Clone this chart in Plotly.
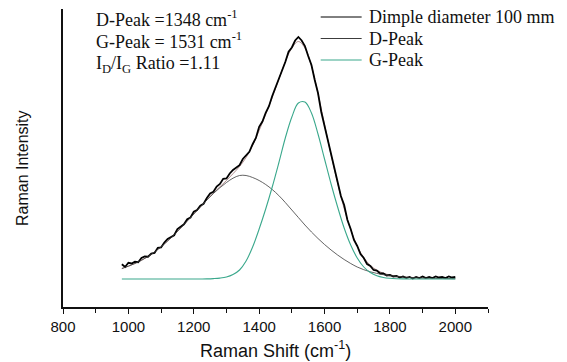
import plotly.graph_objects as go

# ---------------- data ----------------
spec_x = list(range(980, 2001, 10))
spec_y = [14.75, 12, 16.25, 15.5, 17.25, 16.75, 21, 22.5, 22.25, 25.5,
          26, 31.25, 31.5, 36.5, 40, 41.5, 43.75, 50, 52.25, 54.75,
          59.75, 61.5, 67.25, 69, 73.25, 75.25, 81, 85.5, 87.25, 92.5,
          95, 100.25, 100.5, 105.5, 109, 111, 113.75, 120, 123.25, 127.25,
          134.75, 141, 152.25, 157.5, 166.25, 172.75, 183, 191.5, 198.25, 208.5,
          217, 227.25, 231.5, 238.5, 242, 238.5,
          233, 223, 214, 199, 186, 167, 153, 136, 124, 108,
          97, 83, 74, 59, 50, 39, 33, 25, 21, 15,
          13, 9, 8.5, 5.5, 5.5, 3.5, 4, 2.5, 3, 1.5,
          2.5, 1, 2, 0.5, 2, 1, 2.5, 1, 2, 1,
          2.5, 1.5, 2, 1, 2.5, 1.5, 2]

fit_x = list(range(980, 2001, 20))
d_peak = [10.5, 12.8, 15.5, 18.7, 22.5, 27, 32.2, 38, 44.3, 51,
          58, 65, 72, 79, 85.5, 91.3, 96.5, 100.8, 103.5, 103.5,
          101.5, 98.5, 94.5, 89.5, 83.5, 76.5, 69, 61.5, 54, 47,
          40.5, 34.5, 29, 24, 19.5, 15.5, 12, 9.3, 7.2, 5.6,
          4.3, 3.3, 2.6, 2.0, 1.6, 1.2, 1.0, 0.8, 0.6, 0.5,
          0.4, 0.3]
g_peak = [0, 0, 0, 0, 0, 0, 0, 0, 0, 0,
          0, 0, 0.05, 0.15, 0.4, 0.9, 2, 4.5, 9, 18,
          32, 50, 70, 92, 116, 141, 162, 176, 177, 166,
          145, 120, 95, 72, 51, 34, 21, 12, 6.5, 3.2,
          1.5, 0.7, 0.3, 0.1, 0, 0, 0, 0, 0, 0,
          0, 0]
cum_fit = [10.5, 12.8, 15.5, 18.7, 22.5, 27, 32.2, 38, 44.3, 51,
           58, 65, 72, 79.2, 85.9, 92.2, 98.5, 105.3, 112.5, 121.5,
           133.5, 148.5, 164.5, 181.5, 199.5, 217.5, 231, 237.5, 231, 213,
           185.5, 154.5, 124, 96, 70.5, 49.5, 33, 21.3, 13.7, 8.8,
           5.8, 4, 2.9, 2.1, 1.6, 1.2, 1.0, 0.8, 0.6, 0.5,
           0.4, 0.3]

legend_names = ["Dimple diameter 100 mm", "D-Peak", "G-Peak"]
info_lines = ["D-Peak =1348 cm<sup>-1</sup>",
              "G-Peak = 1531 cm<sup>-1</sup>",
              "I<sub>D</sub>/I<sub>G</sub> Ratio =1.11"]
x_ticks = [800, 1000, 1200, 1400, 1600, 1800, 2000]

# ---------------- styling ----------------
W, H = 567, 362
L, R, T, B = 63, 488.5, 9, 307
C_DATA = "#000000"
C_D = "#3c3c3c"
C_G = "#3aa88c"
C_FIT = "#9a6f6f"
SERIF = "Liberation Serif, Times New Roman, serif"
SANS = "Liberation Sans, Arial, sans-serif"


def px(xp):
    return (xp - L) / (R - L)


def py(yp):
    return (B - yp) / (B - T)


fig = go.Figure()
fig.add_trace(go.Scatter(x=fit_x, y=cum_fit, mode="lines", line=dict(color=C_FIT, width=0.8),
                         line_shape="spline", showlegend=False, hoverinfo="skip"))
fig.add_trace(go.Scatter(x=spec_x, y=spec_y, mode="lines", name=legend_names[0],
                         line=dict(color=C_DATA, width=1.8), showlegend=False))
fig.add_trace(go.Scatter(x=fit_x, y=d_peak, mode="lines", name=legend_names[1],
                         line=dict(color=C_D, width=0.8), line_shape="spline", showlegend=False))
fig.add_trace(go.Scatter(x=fit_x, y=g_peak, mode="lines", name=legend_names[2],
                         line=dict(color=C_G, width=1.1), line_shape="spline", showlegend=False))

annotations = []
shapes = []
# info text block
for i, t in enumerate(info_lines):
    annotations.append(dict(text=t, xref="paper", yref="paper", x=px(94), y=py(18 + i * 23),
                            xanchor="left", yanchor="middle", showarrow=False,
                            font=dict(family=SERIF, size=18, color="#111")))
# manual legend
leg_colors = [C_DATA, C_D, C_G]
leg_widths = [1.0, 1.0, 1.1]
for i, name in enumerate(legend_names):
    yy = py(17 + i * 21.5)
    shapes.append(dict(type="line", xref="paper", yref="paper", x0=px(321), x1=px(362),
                       y0=yy, y1=yy, line=dict(color=leg_colors[i], width=leg_widths[i])))
    annotations.append(dict(text=name, xref="paper", yref="paper", x=px(367), y=yy,
                            xanchor="left", yanchor="middle", showarrow=False,
                            font=dict(family=SERIF, size=18, color="#111")))
# axis titles
annotations.append(dict(text="Raman Shift (cm<sup>-1</sup>)", xref="paper", yref="paper",
                        x=px(275.5), y=py(349), xanchor="center", yanchor="middle",
                        showarrow=False, font=dict(family=SANS, size=18, color="#111")))
annotations.append(dict(text="Raman Intensity", xref="paper", yref="paper",
                        x=px(22), y=py(168), xanchor="center", yanchor="middle",
                        textangle=-90, showarrow=False,
                        font=dict(family=SANS, size=16, color="#111")))

fig.update_layout(
    width=W, height=H,
    margin=dict(l=L, r=W - R, t=T, b=H - B),
    paper_bgcolor="white", plot_bgcolor="white",
    showlegend=False,
    annotations=annotations, shapes=shapes,
    xaxis=dict(range=[800, 2100], tickvals=x_ticks, ticks="outside", ticklen=5,
               tickwidth=1.2, tickcolor="#111", showline=True, linecolor="#111",
               linewidth=1.6, showgrid=False, zeroline=False,
               tickfont=dict(family=SANS, size=15, color="#111"),
               minor=dict(dtick=100, tick0=800, ticks="outside", ticklen=4,
                          tickwidth=1.2, tickcolor="#111", showgrid=False)),
    yaxis=dict(range=[-28, 270], showticklabels=False, ticks="", showline=True,
               linecolor="#111", linewidth=1.6, showgrid=False, zeroline=False),
)

fig.write_html("out.html")
